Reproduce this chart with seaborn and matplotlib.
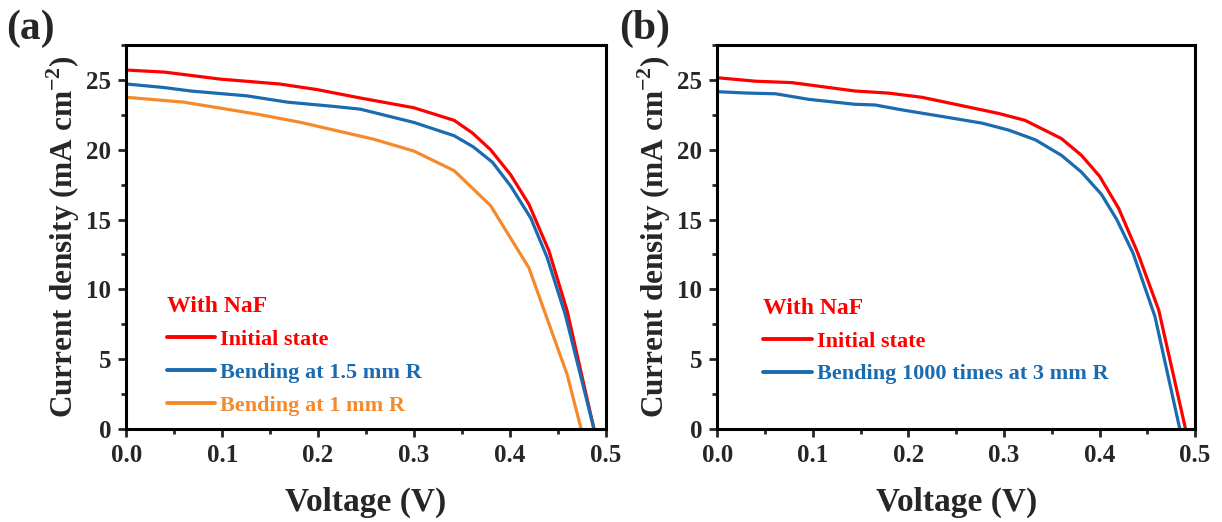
import numpy as np
import pandas as pd
import matplotlib
matplotlib.use("Agg")
import matplotlib.pyplot as plt
import seaborn as sns
from matplotlib.ticker import MultipleLocator

# ---- data ----
a_init_v = [0.0, 0.04, 0.098, 0.16, 0.199, 0.244, 0.30, 0.342, 0.361, 0.38, 0.401, 0.42, 0.441, 0.46, 0.488]
a_init_j = [25.7, 25.55, 25.05, 24.7, 24.3, 23.7, 23.0, 22.1, 21.2, 20.0, 18.2, 16.1, 12.75, 8.45, 0.0]
a_b15_v = [0.0, 0.039, 0.067, 0.126, 0.168, 0.216, 0.244, 0.30, 0.342, 0.362, 0.382, 0.401, 0.422, 0.439, 0.458, 0.488]
a_b15_j = [24.7, 24.45, 24.2, 23.85, 23.4, 23.1, 22.9, 21.95, 21.0, 20.2, 19.1, 17.4, 15.1, 12.3, 8.2, 0.0]
a_b1_v = [0.0, 0.06, 0.14, 0.182, 0.258, 0.30, 0.342, 0.38, 0.42, 0.46, 0.4746]
a_b1_j = [23.75, 23.4, 22.5, 21.95, 20.75, 19.9, 18.5, 16.0, 11.55, 3.9, 0.0]

b_init_v = [0.0, 0.04, 0.078, 0.144, 0.179, 0.214, 0.249, 0.294, 0.322, 0.36, 0.381, 0.40, 0.42, 0.44, 0.462, 0.49]
b_init_j = [25.15, 24.9, 24.8, 24.2, 24.05, 23.75, 23.25, 22.6, 22.1, 20.8, 19.6, 18.1, 15.8, 12.6, 8.5, 0.0]
b_bend_v = [0.0, 0.032, 0.061, 0.096, 0.144, 0.165, 0.193, 0.242, 0.277, 0.305, 0.333, 0.36, 0.381, 0.402, 0.418, 0.435, 0.458, 0.484]
b_bend_j = [24.15, 24.05, 24.0, 23.6, 23.25, 23.2, 22.85, 22.3, 21.9, 21.4, 20.7, 19.6, 18.4, 16.8, 15.0, 12.6, 8.05, 0.0]

labels_a = ["Initial state", "Bending at 1.5 mm R", "Bending at 1 mm R"]
labels_b = ["Initial state", "Bending 1000 times at 3 mm R"]
x_ticks = [0.0, 0.1, 0.2, 0.3, 0.4, 0.5]
x_ticklabels = ["0.0", "0.1", "0.2", "0.3", "0.4", "0.5"]
colors = ["#FF0000", "#1A6BB0", "#F58A2C"]

sns.set_style("ticks")
plt.rcParams['font.family'] = ['Liberation Serif', 'DejaVu Serif']
plt.rcParams['font.weight'] = 'bold'
plt.rcParams['axes.labelweight'] = 'bold'
plt.rcParams['mathtext.fontset'] = 'custom'
plt.rcParams['mathtext.rm'] = 'Liberation Serif:bold'
plt.rcParams['mathtext.bf'] = 'Liberation Serif:bold'

fig = plt.figure(figsize=(12.22, 5.22), dpi=100)
ax1 = fig.add_axes([0.1035, 0.178, 0.392, 0.736])
ax2 = fig.add_axes([0.587, 0.178, 0.391, 0.736])

def make_df(vs, js, labs):
    rows = []
    for v, j, l in zip(vs, js, labs):
        for vi, ji in zip(v, j):
            rows.append((vi, ji, l))
    return pd.DataFrame(rows, columns=["V", "J", "S"])

df_a = make_df([a_init_v, a_b15_v, a_b1_v], [a_init_j, a_b15_j, a_b1_j], labels_a)
df_b = make_df([b_init_v, b_bend_v], [b_init_j, b_bend_j], labels_b)

sns.lineplot(data=df_a, x="V", y="J", hue="S", palette=colors[:3], sort=False,
             estimator=None, linewidth=2.3, ax=ax1)
sns.lineplot(data=df_b, x="V", y="J", hue="S", palette=colors[:2], sort=False,
             estimator=None, linewidth=2.3, ax=ax2)

for ax, anchor in [(ax1, (0.065, 0.012)), (ax2, (0.078, 0.093))]:
    ax.set_xlim(0, 0.5)
    ax.set_ylim(0, 27.5)
    ax.xaxis.set_minor_locator(MultipleLocator(0.05))
    ax.yaxis.set_major_locator(MultipleLocator(5))
    ax.yaxis.set_minor_locator(MultipleLocator(2.5))
    ax.set_xticks(x_ticks)
    ax.set_xticklabels(x_ticklabels)
    ax.tick_params(which='major', direction='out', length=6, width=2, labelsize=18, pad=5)
    ax.tick_params(which='minor', direction='out', length=3.5, width=2)
    for s in ax.spines.values():
        s.set_linewidth(2.2)
        s.set_color('black')
    for t in ax.get_xticklabels() + ax.get_yticklabels():
        t.set_fontweight('bold')
    ax.set_xlabel("Voltage (V)", fontsize=24, fontweight='bold', labelpad=14)
    ax.set_ylabel(r"Current density (mA cm$^{\mathbf{-2}}$)", fontsize=22.5, fontweight='bold', labelpad=3)
    leg = ax.legend(title="With NaF", loc='lower left', bbox_to_anchor=anchor,
                    frameon=False, labelcolor='linecolor', handlelength=2.2,
                    handletextpad=0.2, labelspacing=0.55, borderaxespad=0,
                    prop={'weight': 'bold', 'size': 16},
                    title_fontproperties={'weight': 'bold', 'size': 17})
    leg.get_title().set_color('#FF0000')
    leg._legend_box.align = "left"
    for line in leg.get_lines():
        line.set_linewidth(2.8)

fig.text(0.005, 0.982, "(a)", fontsize=30, fontweight='bold', va='top', ha='left')
fig.text(0.507, 0.982, "(b)", fontsize=30, fontweight='bold', va='top', ha='left')

fig.savefig("out.png", dpi=100)
